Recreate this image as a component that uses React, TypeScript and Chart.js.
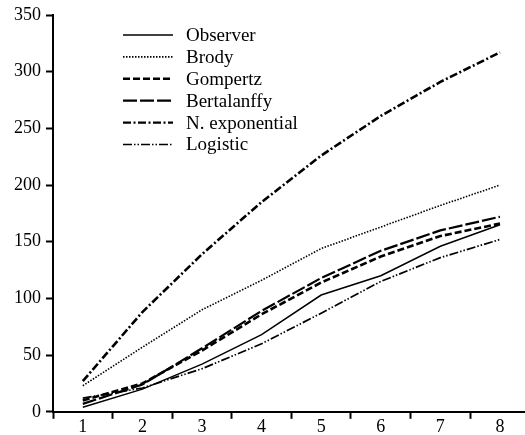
import React, { useEffect, useRef } from "react";
import { Chart, registerables } from "chart.js";

Chart.register(...registerables);

const categories = [1, 2, 3, 4, 5, 6, 7, 8];
const observer = [4, 20, 42, 68, 103, 120, 146, 165];
const brody = [23, 57, 90, 116, 144, 163, 182, 200];
const gompertz = [10, 25, 54, 86, 114, 137, 155, 166];
const bertalanffy = [7, 24, 56, 89, 118, 142, 160, 172];
const nExponential = [27, 88, 139, 185, 226, 261, 291, 317];
const logistic = [12, 21, 38, 60, 87, 115, 136, 152];
const yTicks = [0, 50, 100, 150, 200, 250, 300, 350];

const FONT = "'Liberation Serif', 'Times New Roman', serif";

const seriesDefs = [
  { label: "Observer", data: observer, dash: [], width: 1.5 },
  { label: "Brody", data: brody, dash: [1.5, 1.5], width: 1.6 },
  { label: "Gompertz", data: gompertz, dash: [7, 3], width: 2.6 },
  { label: "Bertalanffy", data: bertalanffy, dash: [14, 3], width: 2.2 },
  { label: "N. exponential", data: nExponential, dash: [8, 2.5, 2, 2.5], width: 2.6 },
  { label: "Logistic", data: logistic, dash: [9, 2, 1.5, 2, 1.5, 2], width: 1.7 },
];

const legendPlugin = {
  id: "customLegend",
  afterDraw(chart: any) {
    const ctx = chart.ctx;
    ctx.save();
    chart.data.datasets.forEach((ds: any, i: number) => {
      const y = 35 + i * 21.9;
      ctx.beginPath();
      ctx.setLineDash(ds.borderDash || []);
      ctx.lineWidth = Math.min(ds.borderWidth, 2.4);
      ctx.strokeStyle = "#000";
      ctx.moveTo(123, y);
      ctx.lineTo(173, y);
      ctx.stroke();
      ctx.setLineDash([]);
      ctx.fillStyle = "#000";
      ctx.font = `19px ${FONT}`;
      ctx.textBaseline = "middle";
      ctx.textAlign = "left";
      ctx.fillText(ds.label, 186, y + 1);
    });
    ctx.restore();
  },
};

export default function App() {
  const ref = useRef<HTMLCanvasElement>(null);
  useEffect(() => {
    if (!ref.current) return;
    const chart = new Chart(ref.current, {
      type: "line",
      data: {
        datasets: seriesDefs.map((s) => ({
          label: s.label,
          data: categories.map((c, i) => ({ x: c, y: s.data[i] })),
          borderColor: "#000",
          backgroundColor: "#000",
          borderWidth: s.width,
          borderDash: s.dash,
          pointRadius: 0,
          tension: 0,
          fill: false,
        })),
      },
      plugins: [legendPlugin],
      options: {
        responsive: false,
        animation: false,
        layout: { padding: { left: 9, top: 15, right: 0, bottom: 0 } },
        plugins: { legend: { display: false }, tooltip: { enabled: false } },
        scales: {
          x: {
            type: "linear",
            min: 0.5,
            max: 8.42,
            border: { color: "#000", width: 2 },
            grid: {
              drawOnChartArea: false,
              drawTicks: true,
              tickLength: 7,
              tickWidth: 2,
              tickColor: (c: any) =>
                c.tick && Math.abs(c.tick.value % 1) > 0.01 ? "#000" : "rgba(0,0,0,0)",
            },
            ticks: {
              stepSize: 0.5,
              includeBounds: false,
              autoSkip: false,
              maxRotation: 0,
              padding: 0,
              color: "#000",
              font: { family: FONT, size: 18, lineHeight: 0.9 },
              callback: (v: any) =>
                Math.abs(Number(v) % 1) < 0.01 && categories.includes(Number(v)) ? String(v) : "",
            },
          },
          y: {
            type: "linear",
            min: 0,
            max: 350,
            afterBuildTicks: (axis: any) => {
              axis.ticks = yTicks.map((v) => ({ value: v }));
            },
            border: { color: "#000", width: 2 },
            grid: {
              drawOnChartArea: false,
              drawTicks: true,
              tickLength: 7,
              tickWidth: 2,
              tickColor: "#000",
            },
            ticks: {
              padding: 5,
              color: "#000",
              font: { family: FONT, size: 18, lineHeight: 1 },
            },
          },
        },
      },
    });
    return () => chart.destroy();
  }, []);
  return (
    <div style={{ position: "absolute", left: 0, top: 0, width: 525, height: 435, background: "#fff" }}>
      <canvas ref={ref} width={525} height={435} style={{ display: "block" }} />
    </div>
  );
}
